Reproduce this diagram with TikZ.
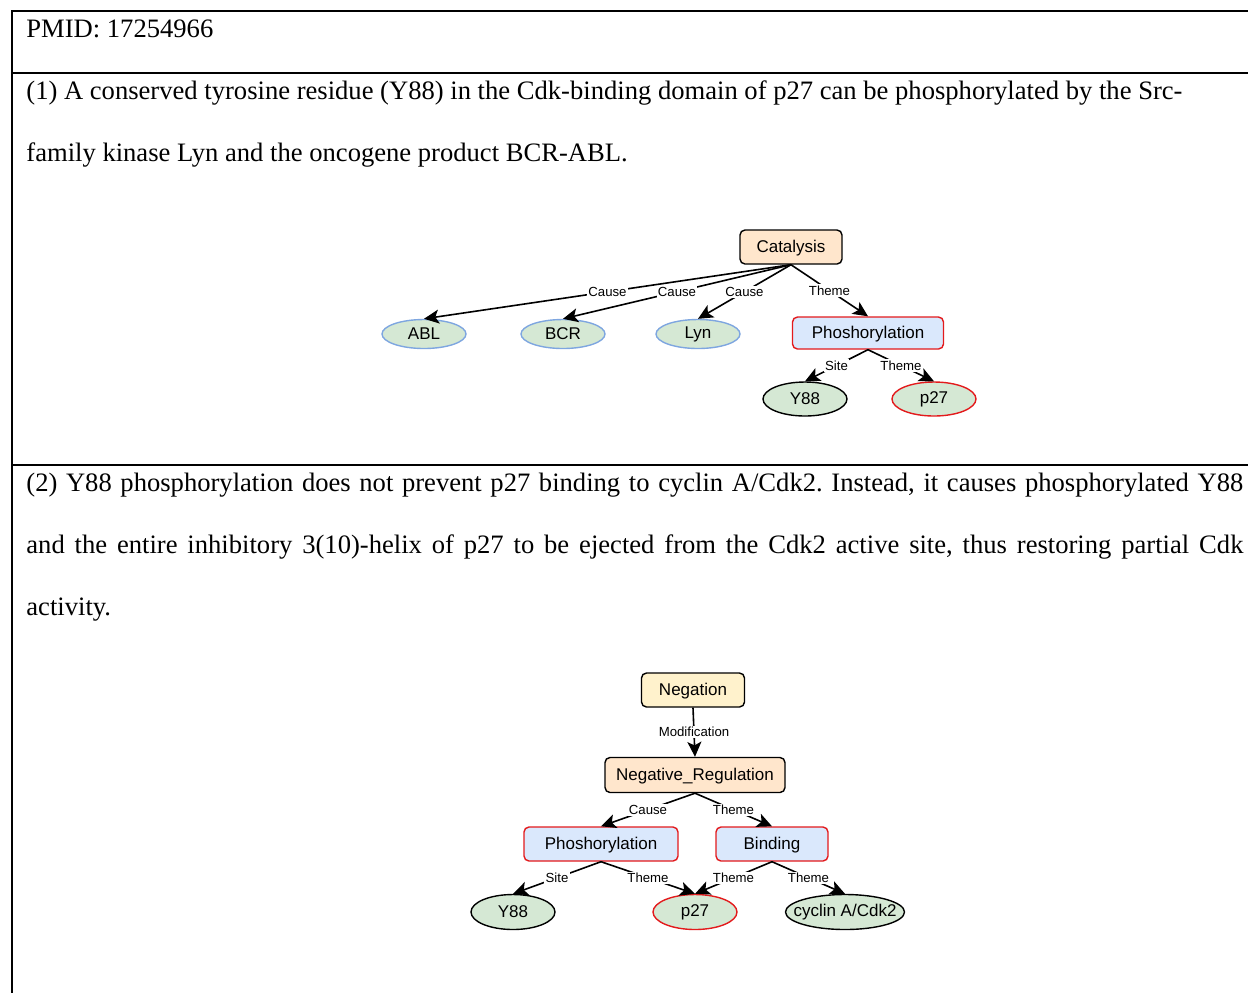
\documentclass[tikz,border=0pt]{standalone}
\usepackage{fontspec}
\setmainfont{Liberation Serif}
\newfontfamily\diagfont{Liberation Sans}
\usetikzlibrary{calc,shapes.geometric,arrows.meta}
\frenchspacing

\definecolor{catfill}{HTML}{FFE6CC}
\definecolor{negfill}{HTML}{FFF2CC}
\definecolor{evfill}{HTML}{DAE8FC}
\definecolor{entfill}{HTML}{D5E8D4}
\definecolor{evred}{HTML}{E31A1C}
\definecolor{entblue}{HTML}{7EA6E0}

\tikzset{
  evbox/.style={draw, rounded corners=2.5pt, line width=0.7pt, minimum height=17pt, inner sep=2pt,
    text depth=0.5pt, font=\diagfont\fontsize{8.5}{10}\selectfont},
  ent/.style={ellipse, draw, fill=entfill, line width=0.7pt, minimum width=42pt, minimum height=17pt,
    inner sep=1pt, font=\diagfont\fontsize{8.5}{10}\selectfont},
  rel/.style={line width=0.8pt, -{Stealth[length=7.5pt,width=7pt,inset=1.8pt]}},
  rellab/.style={fill=white, inner sep=0.6pt, font=\diagfont\fontsize{6.6}{7}\selectfont},
  txt/.style={anchor=base west, inner sep=0pt, font=\fontsize{13.3}{16}\selectfont},
  rule/.style={line width=1.1pt}
}

\begin{document}
\begin{tikzpicture}[x=0.5pt,y=-0.5pt]
    \useasboundingbox (0,0) rectangle (1248,993);

    % table rules
    \draw [rule] (1248,11) -- (12,11) -- (12,993);
    \draw [rule] (12,73) -- (1248,73);
    \draw [rule] (12,465) -- (1248,465);

    % sentences
    \node (pmid) at (26,37) [txt] {PMID: 17254966};
    \node (sa1) at (26,99) [txt] {(1) A conserved tyrosine residue (Y88) in the Cdk-binding domain of p27 can be phosphorylated by the Src-};
    \node (sa2) at (26,161) [txt] {family kinase Lyn and the oncogene product BCR-ABL.};
    \node (sb1) at (26,491) [txt] {\makebox[608.5pt][s]{(2) Y88 phosphorylation does not prevent p27 binding to cyclin A/Cdk2. Instead, it causes phosphorylated Y88}};
    \node (sb2) at (26,553) [txt] {\makebox[608.5pt][s]{and the entire inhibitory 3(10)-helix of p27 to be ejected from the Cdk2 active site, thus restoring partial Cdk}};
    \node (sb3) at (26,615) [txt] {activity.};

    % graph (1)
    \node (cat) at (791,247) [evbox, fill=catfill, minimum width=51pt] {Catalysis};
    \node (abl) at (424,334) [ent, draw=entblue, minimum height=14.5pt] {ABL};
    \node (bcr) at (563,334) [ent, draw=entblue, minimum height=14.5pt] {BCR};
    \node (lyn) at (698,334) [ent, draw=entblue, minimum height=14.5pt] {Lyn};
    \node (phosA) at (868,333) [evbox, fill=evfill, draw=evred, minimum width=75.5pt, minimum height=16pt] {Phoshorylation};
    \node (siteA) at (805,399) [ent, draw=black] {Y88};
    \node (pA) at (934,399) [ent, draw=evred] {p27};

    \foreach \t/\l in {abl/Cause, bcr/Cause, lyn/Cause, phosA/Theme}
        \draw [rel] (cat.south) -- (\t.north) node [midway, rellab] {\l};
    \foreach \t/\l in {siteA/Site, pA/Theme}
        \draw [rel] (phosA.south) -- (\t.north) node [midway, rellab] {\l};

    % graph (2)
    \node (neg) at (693,690) [evbox, fill=negfill, minimum width=51.5pt] {Negation};
    \node (negreg) at (695,775) [evbox, fill=catfill, minimum width=90pt, minimum height=17.5pt] {Negative\_Regulation};
    \node (phosB) at (601,844) [evbox, fill=evfill, draw=evred, minimum width=77pt] {Phoshorylation};
    \node (bind) at (772,844) [evbox, fill=evfill, draw=evred, minimum width=56pt] {Binding};
    \node (siteB) at (513,912) [ent, draw=black, minimum height=17.5pt] {Y88};
    \node (pB) at (695,912) [ent, draw=evred, minimum height=17.5pt] {p27};
    \node (cyc) at (845,912) [ent, draw=black, minimum width=59.5pt, minimum height=17.5pt, inner xsep=-7pt] {cyclin A/Cdk2};

    \draw [rel] (neg.south) -- (negreg.north) node [midway, rellab] {Modification};
    \foreach \s/\t/\l in {negreg/phosB/Cause, negreg/bind/Theme, phosB/siteB/Site,
                          phosB/pB/Theme, bind/pB/Theme, bind/cyc/Theme}
        \draw [rel] (\s.south) -- (\t.north) node [midway, rellab] {\l};

\end{tikzpicture}
\end{document}
